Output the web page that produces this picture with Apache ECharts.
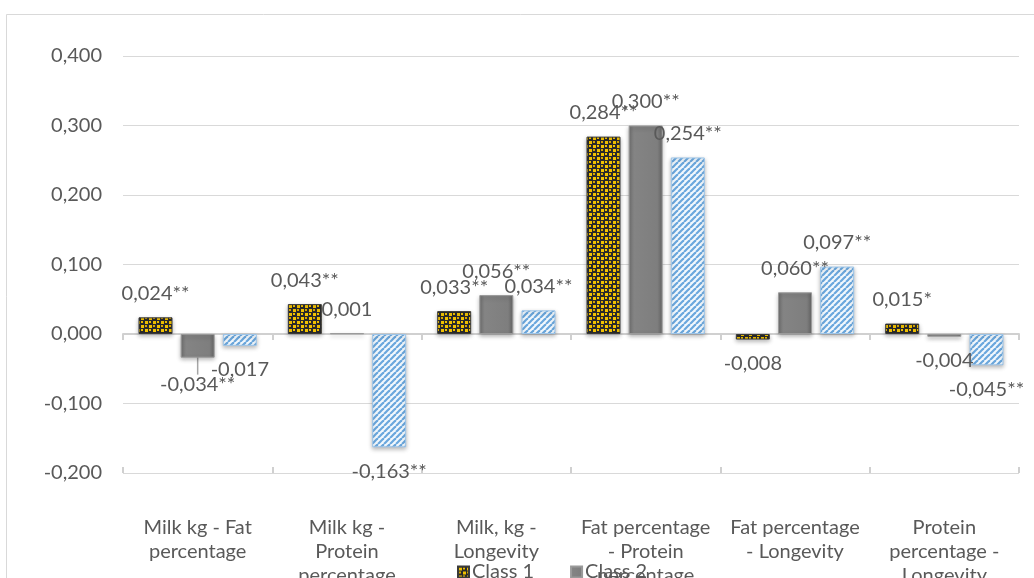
<!DOCTYPE html>
<html>
<head>
<meta charset="utf-8">
<script src="https://cdn.jsdelivr.net/npm/echarts@6/dist/echarts.min.js"></script>
<style>
html,body{margin:0;padding:0;background:#fff;}
#chart{width:1034px;height:578px;}
</style>
</head>
<body>
<div id="chart"></div>
<script>
const categories = ['Milk kg - Fat\npercentage', 'Milk kg -\nProtein\npercentage', 'Milk, kg -\nLongevity', 'Fat percentage\n- Protein\npercentage', 'Fat percentage\n- Longevity', 'Protein\npercentage -\nLongevity'];
const seriesNames = ['Class 1', 'Class 2', 'Class 3'];
const class1 = [0.024, 0.043, 0.033, 0.284, -0.008, 0.015];
const class2 = [-0.034, 0.001, 0.056, 0.300, 0.060, -0.004];
const class3 = [-0.017, -0.163, 0.034, 0.254, 0.097, -0.045];
const class1Labels = ['0,024**', '0,043**', '0,033**', '0,284**', '-0,008', '0,015*'];
const class2Labels = ['-0,034**', '0,001', '0,056**', '0,300**', '0,060**', '-0,004'];
const class3Labels = ['-0,017', '-0,163**', '0,034**', '0,254**', '0,097**', '-0,045**'];
const yTickLabels = ['-0,200', '-0,100', '0,000', '0,100', '0,200', '0,300', '0,400'];

// label horizontal nudges (layout only)
const labelShift = [
  [1, 0, -15, -12, 1, 0],
  [6, 0, 0, 0, -15, -1],
  [-1, 17, 8, 11, -1, 0]
];

function makeCanvas(w, h, draw) {
  const c = document.createElement('canvas');
  c.width = w; c.height = h;
  draw(c.getContext('2d'));
  return c;
}
const confetti = makeCanvas(8, 8, function (g) {
  g.fillStyle = '#2a2a2a'; g.fillRect(0, 0, 8, 8);
  g.fillStyle = '#f2c200';
  g.fillRect(1, 1, 3, 3);
  g.fillRect(5, 5, 3, 3);
  g.fillRect(5, 1, 2, 2);
  g.fillStyle = '#d9a800';
  g.fillRect(1, 5, 2, 2);
});
const stripes = makeCanvas(6, 6, function (g) {
  g.fillStyle = '#f2f8fd'; g.fillRect(0, 0, 6, 6);
  g.strokeStyle = '#6aa7dd'; g.lineWidth = 2.2;
  [-6, 0, 6].forEach(function (k) {
    g.beginPath(); g.moveTo(k, 6); g.lineTo(k + 6, 0); g.stroke();
  });
});

const font = 'Lato, "Open Sans", sans-serif';
const textColor = '#595959';
const values = [class1, class2, class3];
const labels = [class1Labels, class2Labels, class3Labels];
const fills = [
  {image: confetti, repeat: 'repeat'},
  {type: 'linear', x: 0, y: 0, x2: 1, y2: 0, colorStops: [
    {offset: 0, color: '#6f6f6f'}, {offset: 0.15, color: '#848484'},
    {offset: 0.85, color: '#7e7e7e'}, {offset: 1, color: '#666666'}]},
  {image: stripes, repeat: 'repeat'}
];
const borders = ['#3a3a3a', '#9a9a9a', '#9cc4e8'];

const series = values.map(function (vals, s) {
  return {
    name: seriesNames[s],
    type: 'bar',
    xAxisIndex: 0,
    barWidth: 34,
    barGap: '24%',
    itemStyle: {
      color: fills[s], borderColor: borders[s], borderWidth: 1,
      shadowColor: 'rgba(0,0,0,0.28)', shadowBlur: 4, shadowOffsetY: 2
    },
    label: {
      show: true, fontFamily: font, fontSize: 20, lineHeight: 20, color: textColor,
      distance: 14,
      formatter: function (p) { return labels[s][p.dataIndex]; }
    },
    labelLine: {show: false, lineStyle: {color: '#a6a6a6', width: 1.5}},
    labelLayout: function (p) {
      if (s === 1 && p.dataIndex === 0) return {dy: 11};
      return {};
    },
    data: vals.map(function (v, i) {
      const lead = (s === 1 && i === 0);
      return {
        value: v,
        label: {position: v < 0 ? 'bottom' : 'top', offset: [labelShift[s][i], 0], distance: lead ? 6 : 14},
        labelLine: {show: lead, lineStyle: {color: '#a6a6a6', width: 1.5}}
      };
    })
  };
});

const chart = echarts.init(document.getElementById('chart'));
chart.setOption({
  animation: false,
  backgroundColor: '#ffffff',
  graphic: [{
    type: 'rect', left: 4, top: 12, silent: true,
    shape: {width: 1100, height: 700},
    style: {fill: 'none', stroke: '#d9d9d9', lineWidth: 1}
  }],
  grid: {left: 123, right: 15, top: 56, bottom: 105, containLabel: false, outerBoundsMode: 'none'},
  legend: {
    data: ['Class 1', 'Class 2'],
    left: 452, top: 557,
    icon: 'rect', itemWidth: 11, itemHeight: 11, itemGap: 36,
    textStyle: {fontFamily: font, fontSize: 20, color: textColor, padding: [0, 0, 0, -2]}
  },
  xAxis: [
    {
      type: 'category', data: categories, position: 'bottom',
      axisLine: {show: true, onZero: true, lineStyle: {color: '#d0d0d0', width: 2}},
      axisTick: {show: true, length: 6, lineStyle: {color: '#d0d0d0', width: 2}},
      axisLabel: {show: false}, splitLine: {show: false}
    },
    {
      type: 'category', data: categories, position: 'bottom',
      axisLine: {show: false, onZero: true},
      axisTick: {show: true, inside: true, length: 6, lineStyle: {color: '#d0d0d0', width: 2}},
      axisLabel: {show: false}, splitLine: {show: false}
    },
    {
      type: 'category', data: categories, position: 'bottom',
      axisLine: {show: false, onZero: false},
      axisTick: {show: false},
      axisLabel: {show: true, margin: 43, fontFamily: font, fontSize: 20, lineHeight: 24, color: textColor, interval: 0}
    }
  ],
  yAxis: {
    type: 'value', min: -0.2, max: 0.4, interval: 0.1,
    axisLine: {show: false}, axisTick: {show: false},
    splitLine: {lineStyle: {color: '#d9d9d9', width: 1}},
    axisLabel: {
      margin: 21, fontFamily: font, fontSize: 20, color: textColor,
      formatter: function (v) { return yTickLabels[Math.round((v + 0.2) * 10)]; }
    }
  },
  series: series
});
</script>
</body>
</html>
